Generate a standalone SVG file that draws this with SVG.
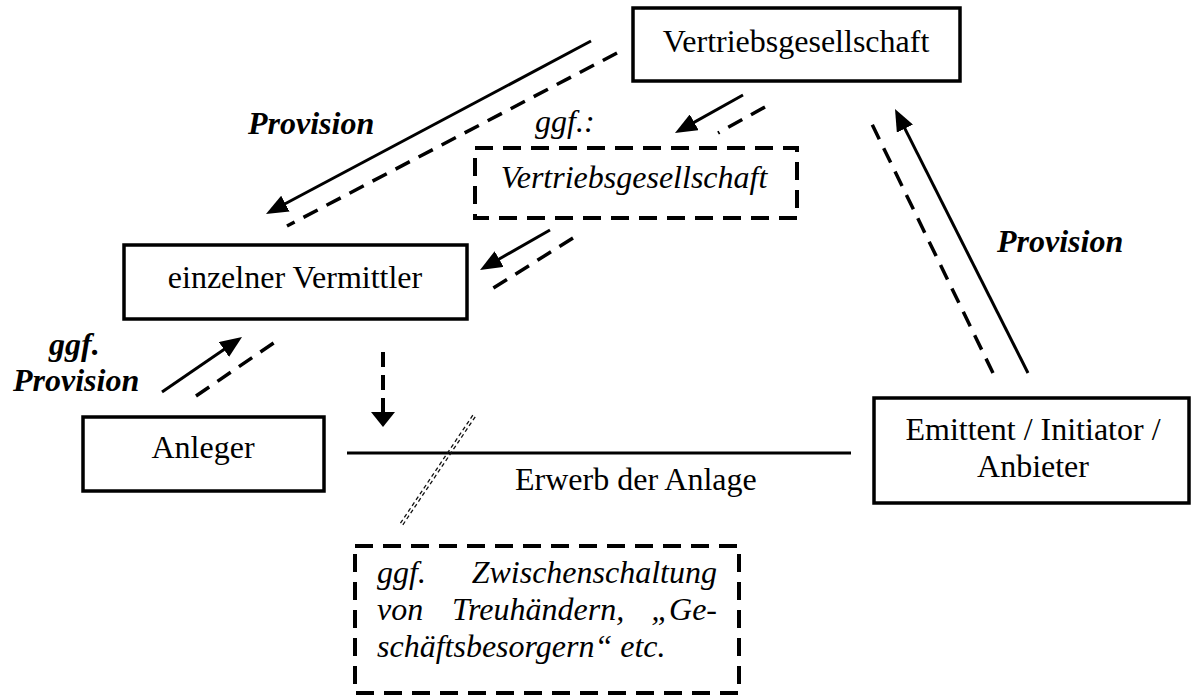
<svg xmlns="http://www.w3.org/2000/svg" width="1191" height="695" viewBox="0 0 1191 695">
<style>
.box{fill:#fff;stroke:#000;stroke-width:3.5}
.dbox{fill:none;stroke:#000;stroke-width:4;stroke-dasharray:18 10}
.t{font-family:"Liberation Serif","Times New Roman",serif;font-size:32px;fill:#000}
.c{text-anchor:middle}
.i{font-style:italic}
.bi{font-style:italic;font-weight:bold}
.sol{stroke:#000;stroke-width:3;fill:none}
.dsh{stroke:#000;stroke-width:3.5;fill:none;stroke-dasharray:16 10}
.vd{stroke:#000;stroke-width:4;fill:none;stroke-dasharray:15 8}
.dd{stroke:#111;stroke-width:1.3;fill:none;stroke-dasharray:4 3}
</style>
<defs>
<marker id="ah" markerUnits="userSpaceOnUse" viewBox="0 0 22 18" markerWidth="22" markerHeight="18" refX="12" refY="9" orient="auto">
<path d="M0,0 L22,9 L0,18 z" fill="#000"/>
</marker>
<marker id="ahw" markerUnits="userSpaceOnUse" viewBox="0 0 15 24" markerWidth="15" markerHeight="24" refX="0" refY="12" orient="auto">
<path d="M0,0 L15,12 L0,24 z" fill="#000"/>
</marker>
</defs>
<rect width="1191" height="695" fill="#fff"/>

<g id="connectors">
<line class="sol" x1="591" y1="41" x2="274.8" y2="209.3" marker-end="url(#ah)"/>
<line class="dsh" x1="617" y1="53" x2="287" y2="226"/>
<line class="sol" x1="743" y1="95" x2="683.7" y2="128.1" marker-end="url(#ah)"/>
<line class="dsh" x1="765" y1="107" x2="718" y2="133"/>
<line class="sol" x1="550" y1="230" x2="488.7" y2="265" marker-end="url(#ah)"/>
<line class="dsh" x1="573" y1="238" x2="487" y2="292"/>
<line class="sol" x1="162" y1="392" x2="233.8" y2="342.7" marker-end="url(#ah)"/>
<line class="dsh" x1="196" y1="396" x2="275" y2="342"/>
<line class="sol" x1="1028" y1="373" x2="899.5" y2="117.9" marker-end="url(#ah)"/>
<line class="dsh" x1="993" y1="373" x2="869" y2="118"/>
<line class="vd" x1="383" y1="352" x2="383" y2="412" marker-end="url(#ahw)"/>
<line class="sol" x1="347" y1="453" x2="851" y2="453"/>
<line class="dd" x1="475.2" y1="416.8" x2="402.2" y2="525.8"/>
<line class="dd" x1="472.8" y1="415.2" x2="399.8" y2="524.2"/>
</g>

<g id="vertriebsgesellschaft">
<rect class="box" x="633" y="8" width="327" height="73"/>
<text class="t c" x="796" y="52">Vertriebsgesellschaft</text>
</g>

<g id="vertriebsgesellschaft2">
<text class="t i" x="535" y="132">ggf.:</text>
<rect class="dbox" x="475" y="148" width="322" height="70"/>
<text class="t i c" x="634" y="188">Vertriebsgesellschaft</text>
</g>

<g id="vermittler">
<rect class="box" x="124" y="245" width="343" height="74"/>
<text class="t c" x="295" y="288">einzelner Vermittler</text>
</g>

<g id="anleger">
<rect class="box" x="83" y="417" width="241" height="74"/>
<text class="t c" x="203" y="458">Anleger</text>
</g>

<g id="emittent">
<rect class="box" x="874" y="398" width="315" height="105"/>
<text class="t c" x="1033" y="440">Emittent / Initiator /</text>
<text class="t c" x="1033" y="477">Anbieter</text>
</g>

<g id="treuhaender">
<rect class="dbox" x="355" y="546" width="384" height="147"/>
<text class="t i" x="377" y="583">ggf.</text>
<text class="t i" x="717" y="583" text-anchor="end">Zwischenschaltung</text>
<text class="t i" x="377" y="620">von</text>
<text class="t i" x="452" y="620">Treuhändern,</text>
<text class="t i" x="717" y="620" text-anchor="end">„Ge-</text>
<text class="t i" x="377" y="657">schäftsbesorgern“ etc.</text>
</g>

<g id="labels">
<text class="t bi" x="248" y="134">Provision</text>
<text class="t bi" x="997" y="252">Provision</text>
<text class="t bi" x="49" y="355">ggf.</text>
<text class="t bi" x="13" y="391">Provision</text>
<text class="t" x="515" y="490">Erwerb der Anlage</text>
</g>
</svg>
